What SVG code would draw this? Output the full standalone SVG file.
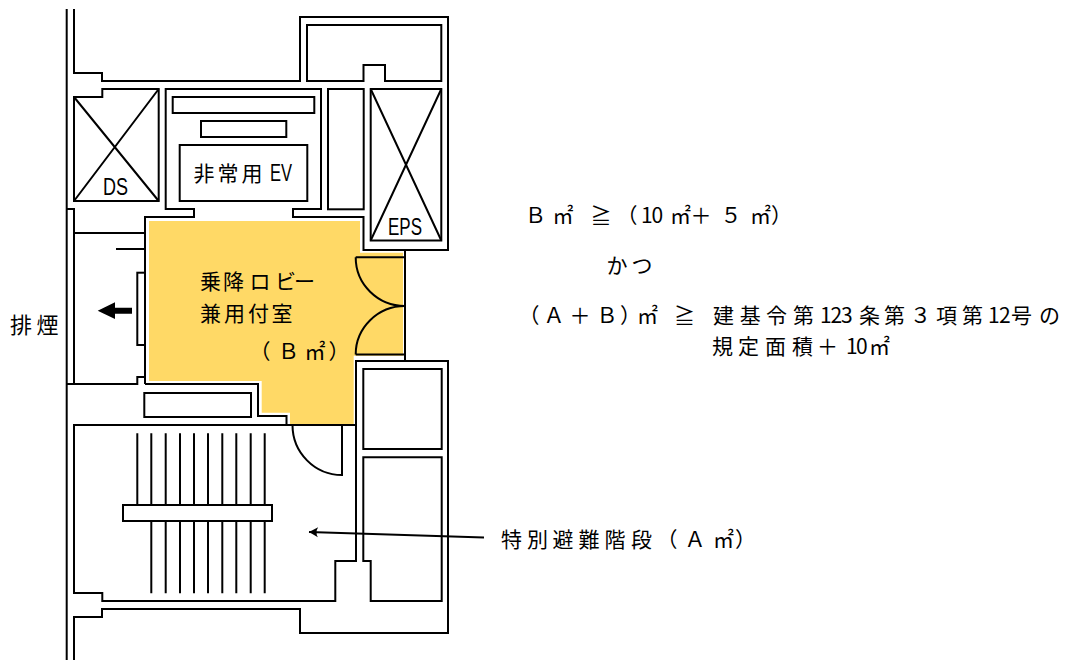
<svg xmlns="http://www.w3.org/2000/svg" width="1068" height="660" viewBox="0 0 1068 660">
<style>
.w{fill:none;stroke:#000;stroke-width:2}
.t{font-family:"Noto Sans CJK JP","Noto Sans",sans-serif;font-size:21px;fill:#000}
.l{font-family:"Liberation Sans",sans-serif;font-size:24px;fill:#000}
</style>
<defs>
<marker id="open" markerUnits="userSpaceOnUse" markerWidth="14" markerHeight="14" refX="12" refY="6" orient="auto" viewBox="0 0 14 12"><path d="M3 1 L12 6 L3 11 Q6 6 3 1Z" fill="#000"/></marker>
</defs>
<rect width="1068" height="660" fill="#fff"/>
<path id="lobby" d="M149 221H360V252.7H403V355.7H353.7V424H290V412.7H261.7V381H149Z" fill="#FFD966"/>
<g id="walls" class="w">
<path d="M66.7 9V660"/>
<path d="M74 9V73H102V81H300V17H448V250H363.5V217H293V209H321V89H165.7V209H194V217H145V384"/>
<path d="M66.7 209H74V384"/>
<path d="M74 233H145M116 249H145"/>
<path d="M66.7 384H137.3V377H145M145 384H258V416H286.5V425H74V593H102.3V601H335.3V561H356V361H405V250"/>
<path d="M405 361H448V633H300V609H102V617H74V660"/>
<path d="M286.5 425H356"/>
<rect x="137.3" y="272.7" width="7.7" height="72.3"/>
</g>
<g id="upper-room" class="w"><path d="M307 25H441.3V81H385V65H363.5V81H307Z"/></g>
<g id="ds" class="w"><path d="M102.3 89H158.7V201H74V97H102.3Z"/><path d="M74 97L158.7 201M158.7 89L74 201"/></g>
<g id="ev" class="w">
<rect x="172.7" y="97" width="141.6" height="16"/>
<rect x="201" y="121" width="85.3" height="16"/>
<rect x="179.7" y="145" width="127.6" height="56"/>
</g>
<g id="shaft" class="w"><rect x="328" y="89" width="35.7" height="120.3"/></g>
<g id="eps" class="w"><rect x="370.7" y="89" width="70.6" height="151.5"/><path d="M370.7 89L441.3 240.5M441.3 89L370.7 240.5"/></g>
<g id="doors" class="w">
<path d="M355.7 257.3H405M355.7 257.3A49.3 48.6 0 0 0 405 306M355.7 354.4A49.3 48.4 0 0 1 405 306M355.7 354.4H405"/>
<path d="M292.5 425A49.5 50 0 0 0 342 475V425"/>
</g>
<g id="lower-left-rect" class="w"><rect x="144.3" y="393" width="106.7" height="24"/></g>
<g id="right-rooms" class="w">
<rect x="363.3" y="369" width="78.4" height="80"/>
<path d="M363.3 457.3H441.7V601H370.7V561H363.3Z"/>
</g>
<g id="stairs" class="w">
<path d="M137.3 433.3V505M151.3 433.3V505M165.7 433.3V505M180 433.3V505M194 433.3V505M208 433.3V505M222.3 433.3V505M236.3 433.3V505M250.7 433.3V505M264.7 433.3V505"/>
<path d="M151.3 521.7V593.3M165.7 521.7V593.3M180 521.7V593.3M194 521.7V593.3M208 521.7V593.3M222.3 521.7V593.3M236.3 521.7V593.3M250.7 521.7V593.3M264.7 521.7V593.3"/>
<rect x="123" y="505" width="149" height="16"/>
</g>
<g id="connectors">
<path d="M484 537.5L309 532" fill="none" stroke="#000" stroke-width="2" marker-end="url(#open)"/>
<path d="M97.7 310.7L115 302.3V307.7H132V313.7H115V319Z" fill="#000"/>
</g>
<g id="labels">
<text class="t" x="10 36.5" y="333" style="font-size:22px">排煙</text>
<text class="l" x="103" y="195" textLength="25" lengthAdjust="spacingAndGlyphs">DS</text>
<text class="l" x="388" y="235" textLength="34" lengthAdjust="spacingAndGlyphs">EPS</text>
<text class="t" x="193.5 217.5 241.5" y="181">非常用</text>
<text class="l" x="270" y="181" textLength="22" lengthAdjust="spacingAndGlyphs">EV</text>
<text class="t" x="200 223 249.5 275 294" y="289">乗降ロビー</text>
<text class="t" x="200 224 248 271.5" y="321">兼用付室</text>
<text class="t" x="249.5 278 304.5 328.5" y="358.5">（Ｂ㎡）</text>
<text class="t" x="525 552.5 590.5 616.5 641 651.5 670 690.5 720.5 750 771" y="223">Ｂ㎡≧（10㎡＋５㎡）</text>
<text class="t" x="606.5 631.5" y="273">かつ</text>
<text class="t" x="518.5 543.5 569.5 596.5 620 637 674 713 739.7 766 793 820 830.5 841 859 884 910 936 962 988 999 1011 1039" y="323">（Ａ＋Ｂ）㎡≧建基令第123条第３項第12号の</text>
<text class="t" x="712 738 765 792 817 846 856 869" y="353.5">規定面積＋10㎡</text>
<text class="t" x="501 527 552.5 578.5 604.5 631 656.5 684.5 713 735" y="547">特別避難階段（Ａ㎡）</text>
</g>
</svg>
